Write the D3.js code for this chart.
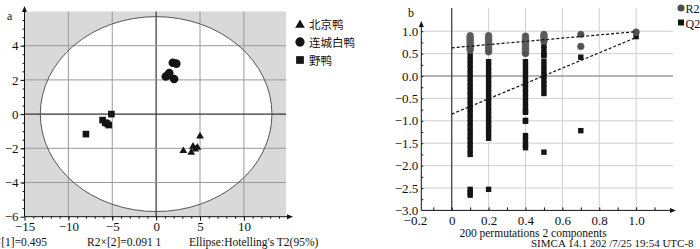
<!DOCTYPE html>
<html>
<head>
<meta charset="utf-8">
<script src="https://cdn.jsdelivr.net/npm/d3@7"></script>
<style>
  body { margin: 0; background: #fff; }
  text { font-family: "Liberation Serif", "DejaVu Serif", serif; fill: #111; }
  .cjk { font-family: "Noto Sans CJK SC", sans-serif; }
</style>
</head>
<body>
<div id="chart"></div>
<script>
// ---- panel a : PCA score plot ----
const groupNames = ["北京鸭", "连城白鸭", "野鸭"];
const pekingScores = [[5.0, -1.3], [3.1, -2.15], [4.0, -2.25], [4.2, -1.9], [4.7, -1.95], [4.45, -2.05]];
const lianchengScores = [[1.9, 3.0], [2.3, 2.95], [1.5, 2.4], [1.1, 2.2], [2.05, 2.05], [1.35, 2.28]];
const wildScores = [[-5.1, 0.0], [-6.1, -0.35], [-5.8, -0.5], [-5.4, -0.64], [-5.6, -0.55], [-8.0, -1.17]];
const aTicksX = [-15, -10, -5, 0, 5, 10];
const aTicksY = [-6, -4, -2, 0, 2, 4];
const ellipseRadius = [13.2, 5.7];
const aFooter = ["R2×[1]=0.495", "R2×[2]=0.091 1", "Ellipse:Hotelling's T2(95%)"];

// ---- panel b : permutation test ----
const permX = [0.1, 0.2, 0.4, 0.5, 0.7, 1.0];
const r2Perm = [
  [0.90, 0.86, 0.82, 0.78, 0.74, 0.70, 0.66, 0.62, 0.58],
  [0.90, 0.86, 0.82, 0.78, 0.74, 0.70, 0.66, 0.62, 0.58, 0.54],
  [0.89, 0.85, 0.81, 0.77, 0.73, 0.69, 0.65, 0.61, 0.57, 0.53, 0.50],
  [0.93, 0.89, 0.85, 0.81, 0.78],
  [0.93, 0.66],
  [0.98]
];
const q2Perm = [
  [0.46, 0.36, 0.26, 0.16, 0.06, -0.04, -0.14, -0.24, -0.34, -0.44, -0.54, -0.64, -0.74, -0.84,
   -0.94, -1.04, -1.14, -1.24, -1.34, -1.44, -1.54, -1.64, -1.75, -2.53, -2.60, -2.66],
  [0.32, 0.22, 0.12, 0.02, -0.08, -0.18, -0.28, -0.38, -0.48, -0.58, -0.68, -0.78, -0.88, -0.98,
   -1.08, -1.18, -1.28, -1.39, -2.53],
  [0.32, 0.22, 0.12, 0.02, -0.08, -0.18, -0.28, -0.38, -0.48, -0.58, -0.68, -0.78, -0.81,
   -0.99, -1.01, -1.33, -1.43, -1.53, -1.60],
  [0.69, 0.59, 0.49, 0.45, 0.32, 0.22, 0.12, 0.02, -0.08, -0.18, -0.28, -0.39, -1.70],
  [0.42, -1.22],
  [0.88]
];
const r2Line = [[0, 0.63], [1.0, 0.99]];
const q2Line = [[0, -0.85], [1.0, 0.86]];
const bTicksX = [-0.2, 0, 0.2, 0.4, 0.6, 0.8, 1.0];
const bTicksY = [-3.0, -2.5, -2.0, -1.5, -1.0, -0.5, 0.0, 0.5, 1.0];
const bFooter = ["200 permutations 2 components", "SIMCA 14.1  202 /7/25 19:54 UTC-8"];

const serif = '"Liberation Serif", "DejaVu Serif", serif';

const svg = d3.select("#chart").append("svg")
  .attr("width", 700).attr("height", 249);

// arrow head helper
function arrow(g, x, y, dir) {
  const p = dir === "up" ? [[x, y - 5], [x - 2.5, y + 1], [x + 2.5, y + 1]]
                         : [[x + 6, y], [x, y - 2.5], [x, y + 2.5]];
  g.append("path").attr("d", "M" + p.join("L") + "Z").attr("fill", "#111");
}

const minus = d => (d < 0 ? "\u2212" : "");

// ================= panel a =================
const xa = d3.scaleLinear().domain([-15, 14.8]).range([24.5, 286]);
const ya = d3.scaleLinear().domain([-6, 6]).range([216.7, 11.5]);
const ga = svg.append("g");

ga.append("rect")
  .attr("x", xa(-15)).attr("y", ya(6))
  .attr("width", xa(14.8) - xa(-15)).attr("height", ya(-6) - ya(6))
  .attr("fill", "#d9d9d9");

ga.append("ellipse")
  .attr("cx", xa(0)).attr("cy", ya(0))
  .attr("rx", xa(ellipseRadius[0]) - xa(0)).attr("ry", ya(0) - ya(ellipseRadius[1]))
  .attr("fill", "#fff");

// grid
ga.selectAll(".gx").data(aTicksX.filter(d => d > -15)).join("line")
  .attr("x1", d => xa(d)).attr("x2", d => xa(d))
  .attr("y1", ya(6)).attr("y2", ya(-6))
  .attr("stroke", d => d === 0 ? "#333" : "#9a9a9a").attr("stroke-width", d => d === 0 ? 1.2 : 1);
ga.selectAll(".gy").data(aTicksY.filter(d => d > -6)).join("line")
  .attr("y1", d => ya(d)).attr("y2", d => ya(d))
  .attr("x1", xa(-15)).attr("x2", xa(14.8))
  .attr("stroke", d => d === 0 ? "#333" : "#9a9a9a").attr("stroke-width", d => d === 0 ? 1.2 : 1);

ga.append("ellipse")
  .attr("cx", xa(0)).attr("cy", ya(0))
  .attr("rx", xa(ellipseRadius[0]) - xa(0)).attr("ry", ya(0) - ya(ellipseRadius[1]))
  .attr("fill", "none").attr("stroke", "#555").attr("stroke-width", 1);

// points
const groups = [
  { data: pekingScores, sym: d3.symbolTriangle, size: 26 },
  { data: lianchengScores, sym: d3.symbolCircle, size: 58 },
  { data: wildScores, sym: d3.symbolSquare, size: 44 }
];
groups.forEach(gr => {
  ga.append("g").selectAll("path").data(gr.data).join("path")
    .attr("d", d3.symbol(gr.sym, gr.size))
    .attr("transform", d => `translate(${xa(d[0])},${ya(d[1])})`)
    .attr("fill", "#151515");
});

// axes
const axA = ga.append("g").attr("transform", `translate(0,${ya(-6)})`)
  .call(d3.axisBottom(xa).tickValues(aTicksX).tickSize(4).tickPadding(1)
    .tickFormat(d => minus(d) + Math.abs(d)));
ga.append("g").attr("transform", `translate(0,${ya(-6)})`)
  .call(d3.axisBottom(xa).tickValues(d3.range(-14, 15, 1)).tickSize(2).tickFormat(""))
  .call(g => g.select(".domain").remove());
const ayA = ga.append("g").attr("transform", `translate(${xa(-15)},0)`)
  .call(d3.axisLeft(ya).tickValues(aTicksY).tickSize(4).tickPadding(2)
    .tickFormat(d => minus(d) + Math.abs(d)));
ga.append("g").attr("transform", `translate(${xa(-15)},0)`)
  .call(d3.axisLeft(ya).tickValues(d3.range(-5.5, 6, 0.5)).tickSize(2).tickFormat(""))
  .call(g => g.select(".domain").remove());
[axA, ayA].forEach(a => {
  a.select(".domain").remove();
  a.attr("font-family", serif).attr("font-size", 13);
  a.selectAll("text").attr("fill", "#111").style("font-family", serif).style("font-size", "13px");
});
ga.selectAll(".tick line").attr("stroke", "#111");
ga.append("line").attr("x1", xa(-15)).attr("x2", 288).attr("y1", ya(-6)).attr("y2", ya(-6)).attr("stroke", "#111");
ga.append("line").attr("x1", xa(-15)).attr("x2", xa(-15)).attr("y1", ya(-6)).attr("y2", 10).attr("stroke", "#111");
arrow(ga, 287, ya(-6), "right");
arrow(ga, xa(-15), 11, "up");

ga.append("text").attr("x", 7).attr("y", 20).style("font-size", "12px").text("a");

// legend a
const legA = ga.append("g").attr("transform", "translate(300,24)");
groups.forEach((gr, i) => {
  legA.append("path")
    .attr("d", d3.symbol(gr.sym, [40, 68, 60][i]))
    .attr("transform", `translate(0,${i * 18 + (i === 0 ? 1 : 0)})`)
    .attr("fill", "#151515");
  legA.append("text").attr("class", "cjk")
    .attr("x", 9).attr("y", i * 18 + 4.5)
    .style("font-size", "11.5px").text(groupNames[i]);
});

// footer a
ga.append("text").attr("x", 47).attr("y", 246).attr("text-anchor", "end")
  .style("font-size", "11.5px").text(aFooter[0]);
ga.append("text").attr("x", 87).attr("y", 246)
  .style("font-size", "11.5px").text(aFooter[1]);
ga.append("text").attr("x", 189).attr("y", 246)
  .style("font-size", "11.5px").text(aFooter[2]);

// ================= panel b =================
const xb = d3.scaleLinear().domain([-0.165, 1.2]).range([421.3, 673]);
const yb = d3.scaleLinear().domain([-3, 1.15]).range([210.4, 24.5]);
const gb = svg.append("g");

// grid
gb.selectAll(".gx").data([0.2, 0.4, 0.6, 0.8, 1.0]).join("line")
  .attr("x1", d => xb(d)).attr("x2", d => xb(d))
  .attr("y1", 8).attr("y2", yb(-3))
  .attr("stroke", "#d0d0d0");
gb.selectAll(".gy").data(bTicksY.filter(d => d > -3)).join("line")
  .attr("y1", d => yb(d)).attr("y2", d => yb(d))
  .attr("x1", xb(-0.165)).attr("x2", 673)
  .attr("stroke", d => d === 0 ? "#9a9a9a" : "#d0d0d0")
  .attr("stroke-width", d => d === 0 ? 1.6 : 1);
gb.append("line").attr("x1", xb(0)).attr("x2", xb(0))
  .attr("y1", 8).attr("y2", yb(-3)).attr("stroke", "#333").attr("stroke-width", 1.2);

// Q2 squares
permX.forEach((px, i) => {
  gb.append("g").selectAll("rect").data(q2Perm[i]).join("rect")
    .attr("x", xb(px) - 2.7).attr("y", d => yb(d) - 2.7)
    .attr("width", 5.4).attr("height", 5.4)
    .attr("fill", "#141414");
});
// R2 circles
permX.forEach((px, i) => {
  gb.append("g").selectAll("circle").data(r2Perm[i]).join("circle")
    .attr("cx", xb(px)).attr("cy", d => yb(d)).attr("r", 3.4)
    .attr("fill", "#505050").attr("stroke", "#6e6e6e").attr("stroke-width", 0.6);
});

// regression lines
const lineB = d3.line().x(d => xb(d[0])).y(d => yb(d[1]));
[r2Line, q2Line].forEach(l => {
  gb.append("path").attr("d", lineB(l))
    .attr("fill", "none").attr("stroke", "#111").attr("stroke-width", 1.2)
    .attr("stroke-dasharray", "3,2");
});

// axes
const axB = gb.append("g").attr("transform", `translate(0,${yb(-3)})`)
  .call(d3.axisBottom(xb).tickValues(bTicksX).tickSize(0).tickPadding(5)
    .tickFormat(d => d === 0 ? "0" : minus(d) + Math.abs(d).toFixed(1)));
gb.append("g").attr("transform", `translate(0,${yb(-3)})`)
  .call(d3.axisTop(xb).tickValues([-0.1, 0, 0.1, 0.2, 0.3, 0.4, 0.5, 0.6, 0.7, 0.8, 0.9, 1.0, 1.1]).tickSize(3).tickFormat(""))
  .call(g => g.select(".domain").remove());
const ayB = gb.append("g").attr("transform", `translate(${xb(-0.165)},0)`)
  .call(d3.axisLeft(yb).tickValues(bTicksY).tickSize(0).tickPadding(3)
    .tickFormat(d => minus(d) + Math.abs(d).toFixed(1)));
gb.append("g").attr("transform", `translate(${xb(-0.165)},0)`)
  .call(d3.axisRight(yb).tickValues(d3.range(-2.75, 1.1, 0.25)).tickSize(2).tickFormat(""))
  .call(g => g.select(".domain").remove());
[axB, ayB].forEach(a => {
  a.select(".domain").remove();
  a.attr("font-family", serif).attr("font-size", 13);
  a.selectAll("text").attr("fill", "#111").style("font-family", serif).style("font-size", "13px");
});
gb.selectAll(".tick line").attr("stroke", "#111");
gb.append("line").attr("x1", xb(-0.165)).attr("x2", 671).attr("y1", yb(-3)).attr("y2", yb(-3)).attr("stroke", "#111");
gb.append("line").attr("x1", xb(-0.165)).attr("x2", xb(-0.165)).attr("y1", yb(-3)).attr("y2", 25).attr("stroke", "#111");
arrow(gb, 670, yb(-3), "right");
arrow(gb, xb(-0.165), 26, "up");

gb.append("text").attr("x", 408).attr("y", 17).style("font-size", "12px").text("b");

// legend b
gb.append("circle").attr("cx", 681).attr("cy", 8).attr("r", 3.6).attr("fill", "#505050");
gb.append("text").attr("x", 685.5).attr("y", 12.5).style("font-size", "12px").text("R2");
gb.append("rect").attr("x", 678).attr("y", 19.5).attr("width", 6).attr("height", 6).attr("fill", "#141414");
gb.append("text").attr("x", 685.5).attr("y", 27.5).style("font-size", "12px").text("Q2");

// footer b
gb.append("text").attr("x", 533).attr("y", 237).attr("text-anchor", "middle")
  .style("font-size", "11.5px").text(bFooter[0]);
gb.append("text").attr("x", 531).attr("y", 247)
  .style("font-size", "11px").text(bFooter[1]);
</script>
</body>
</html>
